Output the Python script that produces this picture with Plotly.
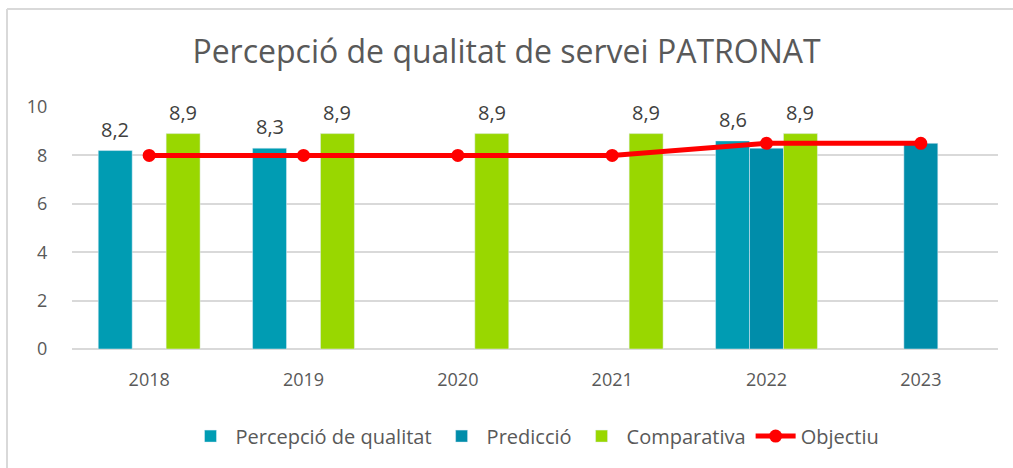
import plotly.graph_objects as go

years = ["2018", "2019", "2020", "2021", "2022", "2023"]
percepcio = [8.2, 8.3, None, None, 8.6, None]
prediccio = [None, None, None, None, 8.3, 8.5]
comparativa = [8.9, 8.9, 8.9, 8.9, 8.9, None]
objectiu = [8, 8, 8, 8, 8.5, 8.5]

BARGAP = 0.34
N_SLOTS = 3
slot = (1 - BARGAP) / N_SLOTS  # width of one bar in category units

label_font = dict(family="Open Sans, Lato, sans-serif", size=20, color="#404040")

fig = go.Figure()
fig.add_trace(go.Bar(
    x=years, y=percepcio, name="Percepció de qualitat",
    marker=dict(color="#009CB3"), cliponaxis=False,
))
fig.add_trace(go.Bar(
    x=years, y=prediccio, name="Predicció",
    marker=dict(color="#008DAA"), cliponaxis=False,
))
fig.add_trace(go.Bar(
    x=years, y=comparativa, name="Comparativa",
    marker=dict(color="#99D700"), cliponaxis=False,
))
fig.add_trace(go.Scatter(
    x=years, y=objectiu, name="Objectiu", mode="lines+markers",
    line=dict(color="#FF0000", width=5),
    marker=dict(color="#FF0000", size=13),
    cliponaxis=False,
))

# value labels above the first and third bar of each group
annotations = []
for series, offset in ((percepcio, -slot), (comparativa, slot)):
    for i, v in enumerate(series):
        if v is None:
            continue
        annotations.append(dict(
            x=i + offset, y=v, xref="x", yref="y",
            text=f"{v:.1f}".replace(".", ","), showarrow=False,
            yanchor="bottom", yshift=6, font=label_font,
        ))

fig.update_layout(
    width=1013, height=468,
    margin=dict(l=72, r=15, t=107, b=119),
    paper_bgcolor="white", plot_bgcolor="white",
    separators=",.",
    barmode="group", bargap=BARGAP, bargroupgap=0,
    title=dict(
        text="Percepció de qualitat de servei PATRONAT",
        x=0.5, xanchor="center", y=1 - 52 / 468, yanchor="middle",
        font=dict(family="Open Sans, sans-serif", size=32, color="#595959"),
    ),
    font=dict(family="Open Sans, Lato, sans-serif", size=18, color="#595959"),
    xaxis=dict(
        showgrid=False, showline=False, zeroline=False,
        ticks="outside", ticklen=14, tickcolor="rgba(0,0,0,0)",
        tickfont=dict(size=18, color="#595959"),
    ),
    yaxis=dict(
        range=[0, 10], dtick=2, showgrid=True, gridcolor="#D9D9D9", gridwidth=1.5,
        zeroline=True, zerolinecolor="#D9D9D9", zerolinewidth=1.5, showline=False,
        ticks="outside", ticklen=20, tickcolor="rgba(0,0,0,0)",
        tickfont=dict(size=18, color="#595959"),
    ),
    legend=dict(
        orientation="h", x=0.5, xanchor="center", y=-0.36, yanchor="middle",
        font=dict(size=20, color="#595959"), itemwidth=40, traceorder="normal",
        tracegroupgap=0,
    ),
    annotations=annotations,
    shapes=[
        dict(type="line", xref="paper", yref="paper",
             x0=-65 / 926, x1=1.02, y0=1 + 98 / 242, y1=1 + 98 / 242,
             line=dict(color="#D9D9D9", width=2)),
        dict(type="line", xref="paper", yref="paper",
             x0=-65 / 926, x1=-65 / 926, y0=1 + 98 / 242, y1=-0.5,
             line=dict(color="#D9D9D9", width=2)),
    ],
)

fig.write_html("out.html")
